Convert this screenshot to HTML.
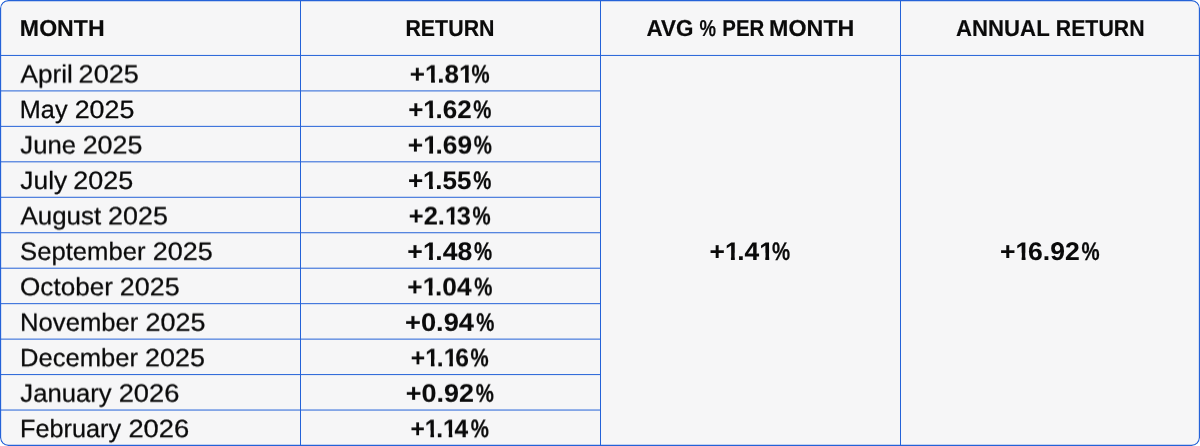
<!DOCTYPE html>
<html lang="en">
<head>
<meta charset="utf-8">
<title>Monthly returns</title>
<style>
*{box-sizing:border-box;margin:0;padding:0}
html,body{width:1200px;height:446px;background:#fff;overflow:hidden}
body{font-family:"Liberation Sans",Arial,Helvetica,sans-serif;color:#0a0a0a;position:relative}
.wrap{position:absolute;left:0;top:0;width:1200px;height:446px;background:#f6f6f7;border-radius:8px;overflow:hidden}
table{position:absolute;left:0;top:0;width:1200px;height:446px;border-collapse:separate;border-spacing:0;table-layout:fixed}
col{width:300px}
th,td{white-space:nowrap;vertical-align:middle;line-height:1;overflow:visible}
th{height:55.5px;font-weight:700;font-size:23.05px;text-align:center;-webkit-text-stroke:0.15px #0a0a0a}
td{height:35.5px;font-size:25.0px;font-weight:400;text-align:left;-webkit-text-stroke:0.25px #0a0a0a}
th.l,td.l{text-align:left;padding-left:20px}
td.v{font-weight:700;font-size:25.35px;text-align:center;-webkit-text-stroke:0.05px #0a0a0a}
.s{display:inline-block;padding:5px 16px;margin:-5px -16px}
.u4{filter:url(#u4)}
.u8{filter:url(#u8)}
.u12{filter:url(#u12)}
.u16{filter:url(#u16)}
.u20{filter:url(#u20)}
.u24{filter:url(#u24)}
.u32{filter:url(#u32)}
.u34{filter:url(#u34)}
.u42{filter:url(#u42)}
.u46{filter:url(#u46)}
.u50{filter:url(#u50)}
.u54{filter:url(#u54)}
.u58{filter:url(#u58)}
.u62{filter:url(#u62)}
.u66{filter:url(#u66)}
.u70{filter:url(#u70)}
.u74{filter:url(#u74)}
.u78{filter:url(#u78)}
.u86{filter:url(#u86)}
.u88{filter:url(#u88)}
.u96{filter:url(#u96)}
.t{display:inline-block;transform-origin:0 50%}
.pc{-webkit-text-stroke:0.25px #0a0a0a}
.o{display:inline-block;clip-path:polygon(0 0,100% 0,100% 55%,67.5% 55%,67.5% 100%,41% 100%,41% 55%,0 55%);margin-right:-0.09em}
.grid{position:absolute;left:0;top:0;width:1200px;height:446px;pointer-events:none}
.defs{position:absolute;width:0;height:0}
</style>
</head>
<body>
<svg class="defs" width="0" height="0" aria-hidden="true"><defs><filter id="u4" x="0" y="0" width="100%" height="100%" color-interpolation-filters="sRGB"><feConvolveMatrix order="1 2" kernelMatrix="0.04 0.96" targetX="0" targetY="0" divisor="1" bias="0" edgeMode="none" preserveAlpha="false"/></filter><filter id="u8" x="0" y="0" width="100%" height="100%" color-interpolation-filters="sRGB"><feConvolveMatrix order="1 2" kernelMatrix="0.08 0.92" targetX="0" targetY="0" divisor="1" bias="0" edgeMode="none" preserveAlpha="false"/></filter><filter id="u12" x="0" y="0" width="100%" height="100%" color-interpolation-filters="sRGB"><feConvolveMatrix order="1 2" kernelMatrix="0.12 0.88" targetX="0" targetY="0" divisor="1" bias="0" edgeMode="none" preserveAlpha="false"/></filter><filter id="u16" x="0" y="0" width="100%" height="100%" color-interpolation-filters="sRGB"><feConvolveMatrix order="1 2" kernelMatrix="0.16 0.84" targetX="0" targetY="0" divisor="1" bias="0" edgeMode="none" preserveAlpha="false"/></filter><filter id="u20" x="0" y="0" width="100%" height="100%" color-interpolation-filters="sRGB"><feConvolveMatrix order="1 2" kernelMatrix="0.2 0.8" targetX="0" targetY="0" divisor="1" bias="0" edgeMode="none" preserveAlpha="false"/></filter><filter id="u24" x="0" y="0" width="100%" height="100%" color-interpolation-filters="sRGB"><feConvolveMatrix order="1 2" kernelMatrix="0.24 0.76" targetX="0" targetY="0" divisor="1" bias="0" edgeMode="none" preserveAlpha="false"/></filter><filter id="u32" x="0" y="0" width="100%" height="100%" color-interpolation-filters="sRGB"><feConvolveMatrix order="1 2" kernelMatrix="0.32 0.68" targetX="0" targetY="0" divisor="1" bias="0" edgeMode="none" preserveAlpha="false"/></filter><filter id="u34" x="0" y="0" width="100%" height="100%" color-interpolation-filters="sRGB"><feConvolveMatrix order="1 2" kernelMatrix="0.34 0.66" targetX="0" targetY="0" divisor="1" bias="0" edgeMode="none" preserveAlpha="false"/></filter><filter id="u42" x="0" y="0" width="100%" height="100%" color-interpolation-filters="sRGB"><feConvolveMatrix order="1 2" kernelMatrix="0.42 0.58" targetX="0" targetY="0" divisor="1" bias="0" edgeMode="none" preserveAlpha="false"/></filter><filter id="u46" x="0" y="0" width="100%" height="100%" color-interpolation-filters="sRGB"><feConvolveMatrix order="1 2" kernelMatrix="0.46 0.54" targetX="0" targetY="0" divisor="1" bias="0" edgeMode="none" preserveAlpha="false"/></filter><filter id="u50" x="0" y="0" width="100%" height="100%" color-interpolation-filters="sRGB"><feConvolveMatrix order="1 2" kernelMatrix="0.5 0.5" targetX="0" targetY="0" divisor="1" bias="0" edgeMode="none" preserveAlpha="false"/></filter><filter id="u54" x="0" y="0" width="100%" height="100%" color-interpolation-filters="sRGB"><feConvolveMatrix order="1 2" kernelMatrix="0.54 0.46" targetX="0" targetY="0" divisor="1" bias="0" edgeMode="none" preserveAlpha="false"/></filter><filter id="u58" x="0" y="0" width="100%" height="100%" color-interpolation-filters="sRGB"><feConvolveMatrix order="1 2" kernelMatrix="0.58 0.42" targetX="0" targetY="0" divisor="1" bias="0" edgeMode="none" preserveAlpha="false"/></filter><filter id="u62" x="0" y="0" width="100%" height="100%" color-interpolation-filters="sRGB"><feConvolveMatrix order="1 2" kernelMatrix="0.62 0.38" targetX="0" targetY="0" divisor="1" bias="0" edgeMode="none" preserveAlpha="false"/></filter><filter id="u66" x="0" y="0" width="100%" height="100%" color-interpolation-filters="sRGB"><feConvolveMatrix order="1 2" kernelMatrix="0.66 0.34" targetX="0" targetY="0" divisor="1" bias="0" edgeMode="none" preserveAlpha="false"/></filter><filter id="u70" x="0" y="0" width="100%" height="100%" color-interpolation-filters="sRGB"><feConvolveMatrix order="1 2" kernelMatrix="0.7 0.3" targetX="0" targetY="0" divisor="1" bias="0" edgeMode="none" preserveAlpha="false"/></filter><filter id="u74" x="0" y="0" width="100%" height="100%" color-interpolation-filters="sRGB"><feConvolveMatrix order="1 2" kernelMatrix="0.74 0.26" targetX="0" targetY="0" divisor="1" bias="0" edgeMode="none" preserveAlpha="false"/></filter><filter id="u78" x="0" y="0" width="100%" height="100%" color-interpolation-filters="sRGB"><feConvolveMatrix order="1 2" kernelMatrix="0.78 0.22" targetX="0" targetY="0" divisor="1" bias="0" edgeMode="none" preserveAlpha="false"/></filter><filter id="u86" x="0" y="0" width="100%" height="100%" color-interpolation-filters="sRGB"><feConvolveMatrix order="1 2" kernelMatrix="0.86 0.14" targetX="0" targetY="0" divisor="1" bias="0" edgeMode="none" preserveAlpha="false"/></filter><filter id="u88" x="0" y="0" width="100%" height="100%" color-interpolation-filters="sRGB"><feConvolveMatrix order="1 2" kernelMatrix="0.88 0.12" targetX="0" targetY="0" divisor="1" bias="0" edgeMode="none" preserveAlpha="false"/></filter><filter id="u96" x="0" y="0" width="100%" height="100%" color-interpolation-filters="sRGB"><feConvolveMatrix order="1 2" kernelMatrix="0.96 0.04" targetX="0" targetY="0" divisor="1" bias="0" edgeMode="none" preserveAlpha="false"/></filter></defs></svg>
<div class="wrap">
<table>
<colgroup><col><col><col><col></colgroup>
<thead><tr>
<th class="l" scope="col"><span class="s"><span class="t" style="transform:translate(-0.14px,0.781px) scaleX(1.003) skewX(.1deg)">MONTH</span></span></th>
<th scope="col"><span class="s"><span class="t" style="transform:translate(3.4px,0.781px) scaleX(0.928) skewX(.1deg)">RETURN</span></span></th>
<th scope="col"><span class="s"><span class="t" style="transform:translate(6.44px,0.781px) scaleX(0.974) skewX(.1deg)">AVG</span> <span class="t" style="transform:translate(4.55px,0.781px) scaleX(0.806) skewX(.1deg)">%</span> <span class="t" style="transform:translate(0.25px,0.781px) scaleX(0.887) skewX(.1deg)">PER</span> <span class="t" style="transform:translate(-5.94px,0.781px) scaleX(1.01) skewX(.1deg)">MONTH</span></span></th>
<th scope="col"><span class="s"><span class="t" style="transform:translate(6.06px,0.781px) scaleX(0.962) skewX(.1deg)">ANNUAL</span> <span class="t" style="transform:translate(1.73px,0.781px) scaleX(0.925) skewX(.1deg)">RETURN</span></span></th>
</tr></thead>
<tbody>
<tr><td class="l"><span class="s u46"><span class="t" style="transform:translate(0.38px,1.25px) scaleX(1.049) skewX(.1deg)">April</span> <span class="t" style="transform:translate(1.58px,1.25px) scaleX(1.083) skewX(.1deg)">2025</span></span></td><td class="v"><span class="s u34"><span class="t" style="transform:translate(0.84px,1.422px) scaleX(1.03) skewX(.1deg)">+<span class="o">1</span>.8<span class="o">1</span></span><span class="t pc" style="transform:translate(2.43px,1.422px) scaleX(0.803) skewX(.1deg)">%</span></span></td><td class="v" rowspan="11"><span class="s"><span class="t" style="transform:translate(0.45px,0.922px) scaleX(1.042) skewX(.1deg)">+<span class="o">1</span>.4<span class="o">1</span></span><span class="t pc" style="transform:translate(2.87px,0.922px) scaleX(0.805) skewX(.1deg)">%</span></span></td><td class="v" rowspan="11"><span class="s"><span class="t" style="transform:translate(-1.01px,0.922px) scaleX(1.05) skewX(.1deg)">+<span class="o">1</span>6.92</span><span class="t pc" style="transform:translate(4.45px,0.922px) scaleX(0.804) skewX(.1deg)">%</span></span></td></tr>
<tr><td class="l"><span class="s"><span class="t" style="transform:translate(-0.23px,0.75px) scaleX(1.011) skewX(.1deg)">May</span> <span class="t" style="transform:translate(0.67px,0.75px) scaleX(1.074) skewX(.1deg)">2025</span></span></td><td class="v"><span class="s u88"><span class="t" style="transform:translate(0.16px,1.922px) scaleX(1.026) skewX(.1deg)">+<span class="o">1</span>.62</span><span class="t pc" style="transform:translate(3.36px,1.922px) scaleX(0.805) skewX(.1deg)">%</span></span></td></tr>
<tr><td class="l"><span class="s u54"><span class="t" style="transform:translate(0.35px,1.25px) scaleX(1.027) skewX(.1deg)">June</span> <span class="t" style="transform:translate(1.62px,1.25px) scaleX(1.075) skewX(.1deg)">2025</span></span></td><td class="v"><span class="s u42"><span class="t" style="transform:translate(-0.27px,1.422px) scaleX(1.041) skewX(.1deg)">+<span class="o">1</span>.69</span><span class="t pc" style="transform:translate(3.68px,1.422px) scaleX(0.805) skewX(.1deg)">%</span></span></td></tr>
<tr><td class="l"><span class="s u8"><span class="t" style="transform:translate(0.34px,0.75px) scaleX(1.056) skewX(.1deg)">July</span> <span class="t" style="transform:translate(2.35px,0.75px) scaleX(1.078) skewX(.1deg)">2025</span></span></td><td class="v"><span class="s u96"><span class="t" style="transform:translate(-0.13px,1.922px) scaleX(1.028) skewX(.1deg)">+<span class="o">1</span>.55</span><span class="t pc" style="transform:translate(3.31px,1.922px) scaleX(0.804) skewX(.1deg)">%</span></span></td></tr>
<tr><td class="l"><span class="s u62"><span class="t" style="transform:translate(0.43px,1.25px) scaleX(1.037) skewX(.1deg)">August</span> <span class="t" style="transform:translate(3.06px,1.25px) scaleX(1.076) skewX(.1deg)">2025</span></span></td><td class="v"><span class="s u50"><span class="t" style="transform:translate(0.79px,1.422px) scaleX(1.005) skewX(.1deg)">+2.<span class="o">1</span>3</span><span class="t pc" style="transform:translate(2.4px,1.422px) scaleX(0.805) skewX(.1deg)">%</span></span></td></tr>
<tr><td class="l"><span class="s u16"><span class="t" style="transform:translate(0px,0.75px) scaleX(1.027) skewX(.1deg)">September</span> <span class="t" style="transform:translate(3.66px,0.75px) scaleX(1.079) skewX(.1deg)">2025</span></span></td><td class="v"><span class="s u4"><span class="t" style="transform:translate(-0.72px,0.922px) scaleX(1.052) skewX(.1deg)">+<span class="o">1</span>.48</span><span class="t pc" style="transform:translate(4.02px,0.922px) scaleX(0.805) skewX(.1deg)">%</span></span></td></tr>
<tr><td class="l"><span class="s u70"><span class="t" style="transform:translate(0.04px,1.25px) scaleX(1.044) skewX(.1deg)">October</span> <span class="t" style="transform:translate(3.81px,1.25px) scaleX(1.075) skewX(.1deg)">2025</span></span></td><td class="v"><span class="s u58"><span class="t" style="transform:translate(-0.65px,1.422px) scaleX(1.037) skewX(.1deg)">+<span class="o">1</span>.04</span><span class="t pc" style="transform:translate(4.12px,1.422px) scaleX(0.806) skewX(.1deg)">%</span></span></td></tr>
<tr><td class="l"><span class="s u24"><span class="t" style="transform:translate(0.01px,0.75px) scaleX(1.026) skewX(.1deg)">November</span> <span class="t" style="transform:translate(3.36px,0.75px) scaleX(1.079) skewX(.1deg)">2025</span></span></td><td class="v"><span class="s u12"><span class="t" style="transform:translate(-2.09px,0.922px) scaleX(1.078) skewX(.1deg)">+0.94</span><span class="t pc" style="transform:translate(5.34px,0.922px) scaleX(0.804) skewX(.1deg)">%</span></span></td></tr>
<tr><td class="l"><span class="s u78"><span class="t" style="transform:translate(0.05px,1.25px) scaleX(1.023) skewX(.1deg)">December</span> <span class="t" style="transform:translate(3.08px,1.25px) scaleX(1.077) skewX(.1deg)">2025</span></span></td><td class="v"><span class="s u66"><span class="t" style="transform:translate(1.83px,1.422px) scaleX(0.974) skewX(.1deg)">+<span class="o">1</span>.<span class="o">1</span>6</span><span class="t pc" style="transform:translate(1.37px,1.422px) scaleX(0.806) skewX(.1deg)">%</span></span></td></tr>
<tr><td class="l"><span class="s u32"><span class="t" style="transform:translate(0.34px,0.75px) scaleX(1.026) skewX(.1deg)">January</span> <span class="t" style="transform:translate(2.61px,0.75px) scaleX(1.093) skewX(.1deg)">2026</span></span></td><td class="v"><span class="s u20"><span class="t" style="transform:translate(-1.35px,0.922px) scaleX(1.065) skewX(.1deg)">+0.92</span><span class="t pc" style="transform:translate(4.67px,0.922px) scaleX(0.805) skewX(.1deg)">%</span></span></td></tr>
<tr><td class="l"><span class="s u86"><span class="t" style="transform:translate(0.01px,1.25px) scaleX(1.011) skewX(.1deg)">February</span> <span class="t" style="transform:translate(1.38px,1.25px) scaleX(1.095) skewX(.1deg)">2026</span></span></td><td class="v"><span class="s u74"><span class="t" style="transform:translate(1.43px,1.422px) scaleX(0.97) skewX(.1deg)">+<span class="o">1</span>.<span class="o">1</span>4</span><span class="t pc" style="transform:translate(1.76px,1.422px) scaleX(0.806) skewX(.1deg)">%</span></span></td></tr>
</tbody></table>
<svg class="grid" width="1200" height="446" viewBox="0 0 1200 446" aria-hidden="true"><rect x="0.575" y="0.575" width="1198.85" height="444.85" rx="7.925" ry="7.925" fill="none" stroke="#2462d8" stroke-width="1.15"/><g fill="#2462d8"><rect x="0" y="54.938" width="1200" height="1"/><rect x="0" y="90.398" width="600" height="1"/><rect x="0" y="125.858" width="600" height="1"/><rect x="0" y="161.319" width="600" height="1"/><rect x="0" y="196.779" width="600" height="1"/><rect x="0" y="232.239" width="600" height="1"/><rect x="0" y="267.699" width="600" height="1"/><rect x="0" y="303.16" width="600" height="1"/><rect x="0" y="338.62" width="600" height="1"/><rect x="0" y="374.08" width="600" height="1"/><rect x="0" y="409.54" width="600" height="1"/><rect x="300" y="0" width="1" height="446"/><rect x="600" y="0" width="1" height="446"/><rect x="900" y="0" width="1" height="446"/></g></svg>
</div>
</body>
</html>
